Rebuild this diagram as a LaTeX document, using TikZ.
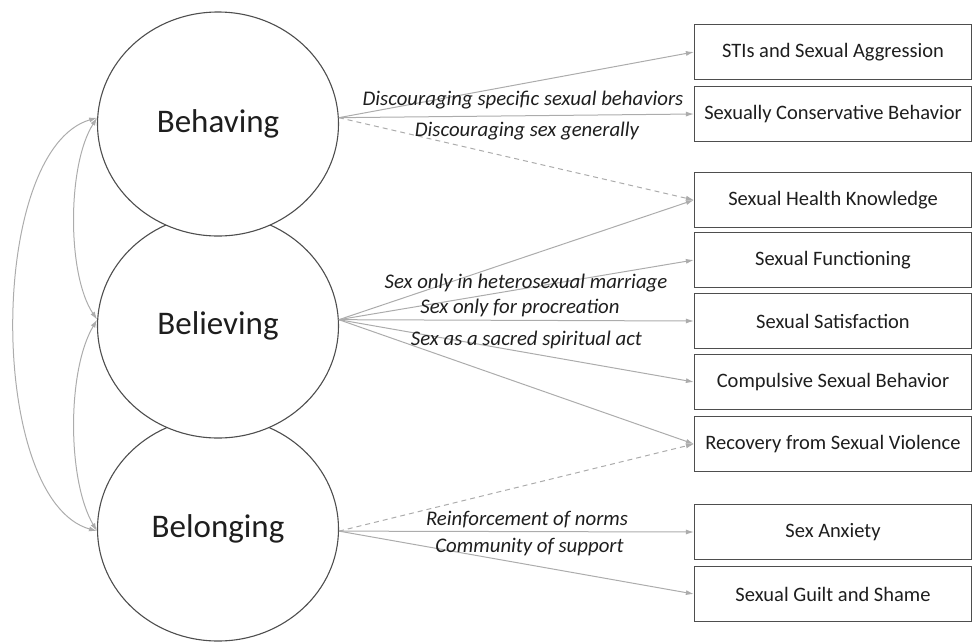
\documentclass[tikz,border=0pt]{standalone}
\usepackage{fontspec}
\setmainfont{Carlito}
\usetikzlibrary{shapes.geometric,arrows.meta}
\definecolor{conn}{RGB}{172,172,172}
\definecolor{rim}{RGB}{78,78,78}
\definecolor{ink}{RGB}{30,30,30}
\begin{document}
\begin{tikzpicture}[x=1pt,y=-1pt,
  construct/.style={ellipse,draw=rim,fill=white,line width=1.1pt,minimum width=241pt,minimum height=224pt,inner sep=0pt,font=\fontsize{33}{36}\selectfont,text=ink},
  outcome/.style={rectangle,draw=rim,line width=1.2pt,minimum width=277pt,minimum height=55pt,inner sep=0pt,font=\fontsize{20.5}{24}\selectfont,text=ink},
  link/.style={draw=conn,line width=1pt,-{Latex[length=8pt,width=5pt]}},
  dlink/.style={link,dash pattern=on 5pt off 4pt},
  twoway/.style={draw=conn,line width=1pt,{Latex[length=8pt,width=5pt]}-{Latex[length=8pt,width=5pt]}},
  lbl/.style={anchor=base,font=\itshape\fontsize{20.8}{24}\selectfont,text=ink,inner sep=0pt},
]
\useasboundingbox (0,0) rectangle (973,641);
% constructs (drawn bottom-up so upper ones overlap)
\node[construct] (bng) at (218,529) {Belonging};
\node[construct] (bel) at (218,326) {Believing};
\node[construct] (beh) at (218,124) {Behaving};
% outcomes
\node[outcome] (o1) at (833,52)  {STIs and Sexual Aggression};
\node[outcome] (o2) at (833,114) {Sexually Conservative Behavior};
\node[outcome] (o3) at (833,200) {Sexual Health Knowledge};
\node[outcome] (o4) at (833,260) {Sexual Functioning};
\node[outcome] (o5) at (833,321) {Sexual Satisfaction};
\node[outcome] (o6) at (833,382) {Compulsive Sexual Behavior};
\node[outcome] (o7) at (833,444) {Recovery from Sexual Violence};
\node[outcome] (o8) at (833,532) {Sex Anxiety};
\node[outcome] (o9) at (833,594) {Sexual Guilt and Shame};
% paths from Behaving
\draw[link] (beh.3.3) -- (o1.west);
\draw[link] (beh.3.3) -- (o2.west);
\draw[dlink] (beh.3.3) -- (o3.west);
% paths from Believing
\draw[link] (bel.3.3) -- (o3.west);
\draw[link] (bel.3.3) -- (o4.west);
\draw[link] (bel.3.3) -- (o5.west);
\draw[link] (bel.3.3) -- (o6.west);
\draw[link] (bel.3.3) -- (o7.west);
% paths from Belonging
\draw[dlink] (bng.-1.5) -- (o7.west);
\draw[link] (bng.-1.5) -- (o8.west);
\draw[link] (bng.-1.5) -- (o9.west);
% correlations
\draw[twoway] (beh.177) .. controls (67,165) and (67,275) .. (bel.177);
\draw[twoway] (bel.177) .. controls (67,370) and (67,480) .. (bng.181.5);
\draw[twoway] (beh.177) .. controls (-13,150) and (-13,500) .. (bng.181.5);
% labels
\node[lbl] (l1) at (523,105) {Discouraging specific sexual behaviors};
\node[lbl] (l2) at (527,136.5) {Discouraging sex generally};
\node[lbl] (l3) at (526,288) {Sex only in heterosexual marriage};
\node[lbl] (l4) at (520,313) {Sex only for procreation};
\node[lbl] (l5) at (526.5,345) {Sex as a sacred spiritual act};
\node[lbl] (l6) at (527,525) {Reinforcement of norms};
\node[lbl] (l7) at (529.5,552) {Community of support};
\end{tikzpicture}
\end{document}
